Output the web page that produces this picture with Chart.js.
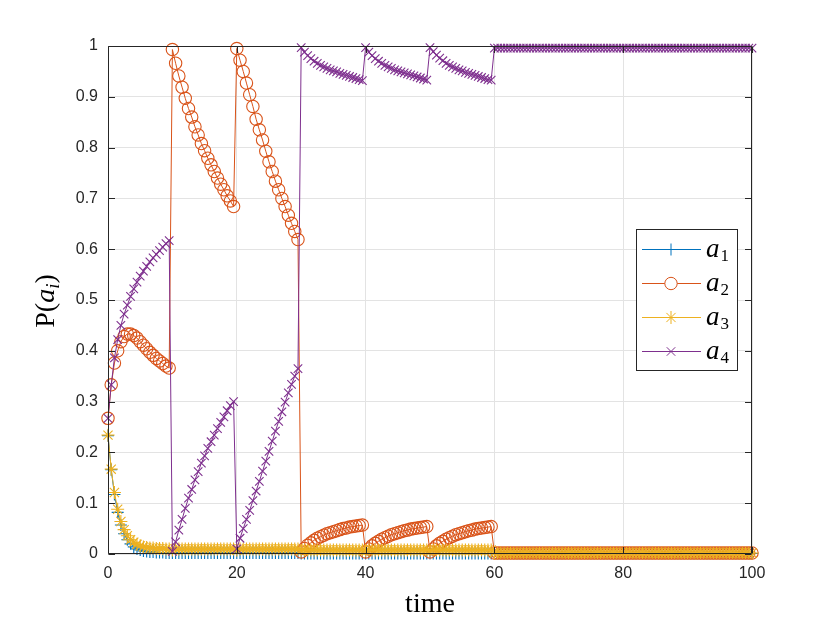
<!DOCTYPE html>
<html>
<head>
<meta charset="utf-8">
<script src="https://cdn.jsdelivr.net/npm/chart.js@4.4.1/dist/chart.umd.min.js"></script>
<style>
  html, body { margin: 0; padding: 0; background: #fff; }
  #wrap { width: 830px; height: 623px; }
</style>
</head>
<body>
<div id="wrap"><canvas id="plot" width="830" height="623"></canvas></div>
<script>
// time grid: one sample every 0.5 from 0 to 100
const time = Array.from({ length: 201 }, (_, i) => i * 0.5);

const xTicks = [0, 20, 40, 60, 80, 100];
const yTicks = [0, 0.1, 0.2, 0.3, 0.4, 0.5, 0.6, 0.7, 0.8, 0.9, 1];

const seriesNames = ['a1', 'a2', 'a3', 'a4'];

// values, one row of 20 per 10 time units, then t = 60..100
const a1 = [
  0.233, 0.166, 0.117, 0.082, 0.057, 0.040, 0.028, 0.020, 0.014, 0.010, 0.008, 0.006, 0.005, 0.004, 0.004, 0.003, 0.003, 0.003, 0.002, 0.002,
  0.002, 0.002, 0.002, 0.002, 0.002, 0.002, 0.002, 0.002, 0.002, 0.002, 0.002, 0.002, 0.002, 0.002, 0.002, 0.002, 0.002, 0.002, 0.002, 0.002,
  0.002, 0.002, 0.002, 0.002, 0.002, 0.002, 0.002, 0.002, 0.002, 0.002, 0.002, 0.002, 0.002, 0.002, 0.002, 0.002, 0.002, 0.002, 0.002, 0.002,
  0.001, 0.001, 0.001, 0.001, 0.001, 0.001, 0.001, 0.001, 0.001, 0.001, 0.001, 0.001, 0.001, 0.001, 0.001, 0.001, 0.001, 0.001, 0.001, 0.001,
  0.001, 0.001, 0.001, 0.001, 0.001, 0.001, 0.001, 0.001, 0.001, 0.001, 0.001, 0.001, 0.001, 0.001, 0.001, 0.001, 0.001, 0.001, 0.001, 0.001,
  0.001, 0.001, 0.001, 0.001, 0.001, 0.001, 0.001, 0.001, 0.001, 0.001, 0.001, 0.001, 0.001, 0.001, 0.001, 0.001, 0.001, 0.001, 0.001, 0.001,
  0.001, 0.001, 0.001, 0.001, 0.001, 0.001, 0.001, 0.001, 0.001,
  0.001, 0.001, 0.001, 0.001, 0.001, 0.001, 0.001, 0.001, 0.001,
  0.001, 0.001, 0.001, 0.001, 0.001, 0.001, 0.001, 0.001, 0.001,
  0.001, 0.001, 0.001, 0.001, 0.001, 0.001, 0.001, 0.001, 0.001,
  0.001, 0.001, 0.001, 0.001, 0.001, 0.001, 0.001, 0.001, 0.001,
  0.001, 0.001, 0.001, 0.001, 0.001, 0.001, 0.001, 0.001, 0.001,
  0.001, 0.001, 0.001, 0.001, 0.001, 0.001, 0.001, 0.001, 0.001,
  0.001, 0.001, 0.001, 0.001, 0.001, 0.001, 0.001, 0.001, 0.001,
  0.001, 0.001, 0.001, 0.001, 0.001, 0.001, 0.001, 0.001, 0.001
];

const a2 = [
  0.267, 0.333, 0.376, 0.400, 0.418, 0.428, 0.433, 0.433, 0.430, 0.425, 0.418, 0.411, 0.404, 0.397, 0.391, 0.385, 0.380, 0.375, 0.370, 0.366,
  0.993, 0.966, 0.941, 0.919, 0.897, 0.877, 0.860, 0.841, 0.825, 0.808, 0.794, 0.779, 0.766, 0.753, 0.740, 0.728, 0.717, 0.705, 0.695, 0.684,
  0.995, 0.972, 0.950, 0.927, 0.904, 0.881, 0.856, 0.835, 0.815, 0.793, 0.772, 0.753, 0.734, 0.717, 0.700, 0.684, 0.667, 0.651, 0.635, 0.619,
  0.004, 0.011, 0.017, 0.022, 0.027, 0.031, 0.034, 0.037, 0.040, 0.042, 0.044, 0.046, 0.048, 0.050, 0.051, 0.053, 0.054, 0.055, 0.056, 0.057,
  0.004, 0.010, 0.016, 0.021, 0.025, 0.029, 0.032, 0.035, 0.038, 0.040, 0.042, 0.044, 0.046, 0.047, 0.049, 0.050, 0.051, 0.052, 0.053, 0.054,
  0.004, 0.010, 0.016, 0.021, 0.025, 0.029, 0.032, 0.035, 0.038, 0.040, 0.042, 0.044, 0.046, 0.047, 0.049, 0.050, 0.051, 0.052, 0.053, 0.054,
  0.002, 0.002, 0.002, 0.002, 0.002, 0.002, 0.002, 0.002, 0.002,
  0.002, 0.002, 0.002, 0.002, 0.002, 0.002, 0.002, 0.002, 0.002,
  0.002, 0.002, 0.002, 0.002, 0.002, 0.002, 0.002, 0.002, 0.002,
  0.002, 0.002, 0.002, 0.002, 0.002, 0.002, 0.002, 0.002, 0.002,
  0.002, 0.002, 0.002, 0.002, 0.002, 0.002, 0.002, 0.002, 0.002,
  0.002, 0.002, 0.002, 0.002, 0.002, 0.002, 0.002, 0.002, 0.002,
  0.002, 0.002, 0.002, 0.002, 0.002, 0.002, 0.002, 0.002, 0.002,
  0.002, 0.002, 0.002, 0.002, 0.002, 0.002, 0.002, 0.002, 0.002,
  0.002, 0.002, 0.002, 0.002, 0.002, 0.002, 0.002, 0.002, 0.002
];

const a3 = [
  0.234, 0.167, 0.121, 0.088, 0.064, 0.048, 0.036, 0.028, 0.023, 0.019, 0.016, 0.014, 0.013, 0.012, 0.012, 0.011, 0.011, 0.011, 0.010, 0.010,
  0.008, 0.010, 0.010, 0.010, 0.010, 0.010, 0.010, 0.010, 0.010, 0.010, 0.010, 0.010, 0.010, 0.010, 0.010, 0.010, 0.010, 0.010, 0.010, 0.010,
  0.008, 0.010, 0.010, 0.010, 0.010, 0.010, 0.010, 0.010, 0.010, 0.010, 0.010, 0.010, 0.010, 0.010, 0.010, 0.010, 0.010, 0.010, 0.010, 0.010,
  0.007, 0.008, 0.008, 0.008, 0.008, 0.008, 0.008, 0.008, 0.008, 0.008, 0.008, 0.008, 0.008, 0.008, 0.008, 0.008, 0.008, 0.008, 0.008, 0.008,
  0.007, 0.008, 0.008, 0.008, 0.008, 0.008, 0.008, 0.008, 0.008, 0.008, 0.008, 0.008, 0.008, 0.008, 0.008, 0.008, 0.008, 0.008, 0.008, 0.008,
  0.007, 0.008, 0.008, 0.008, 0.008, 0.008, 0.008, 0.008, 0.008, 0.008, 0.008, 0.008, 0.008, 0.008, 0.008, 0.008, 0.008, 0.008, 0.008, 0.008,
  0.002, 0.002, 0.002, 0.002, 0.002, 0.002, 0.002, 0.002, 0.002,
  0.002, 0.002, 0.002, 0.002, 0.002, 0.002, 0.002, 0.002, 0.002,
  0.002, 0.002, 0.002, 0.002, 0.002, 0.002, 0.002, 0.002, 0.002,
  0.002, 0.002, 0.002, 0.002, 0.002, 0.002, 0.002, 0.002, 0.002,
  0.002, 0.002, 0.002, 0.002, 0.002, 0.002, 0.002, 0.002, 0.002,
  0.002, 0.002, 0.002, 0.002, 0.002, 0.002, 0.002, 0.002, 0.002,
  0.002, 0.002, 0.002, 0.002, 0.002, 0.002, 0.002, 0.002, 0.002,
  0.002, 0.002, 0.002, 0.002, 0.002, 0.002, 0.002, 0.002, 0.002,
  0.002, 0.002, 0.002, 0.002, 0.002, 0.002, 0.002, 0.002, 0.002
];

const a4 = [
  0.267, 0.333, 0.386, 0.422, 0.450, 0.472, 0.490, 0.507, 0.522, 0.535, 0.547, 0.557, 0.566, 0.575, 0.583, 0.590, 0.597, 0.604, 0.611, 0.617,
  0.005, 0.024, 0.047, 0.068, 0.090, 0.110, 0.127, 0.146, 0.162, 0.179, 0.193, 0.208, 0.221, 0.234, 0.247, 0.259, 0.270, 0.282, 0.292, 0.300,
  0.010, 0.031, 0.050, 0.068, 0.086, 0.105, 0.124, 0.143, 0.163, 0.183, 0.202, 0.222, 0.242, 0.261, 0.280, 0.299, 0.317, 0.334, 0.350, 0.365,
  0.997, 0.988, 0.981, 0.975, 0.970, 0.966, 0.962, 0.959, 0.956, 0.953, 0.951, 0.949, 0.946, 0.944, 0.942, 0.940, 0.938, 0.936, 0.934, 0.932,
  0.997, 0.988, 0.981, 0.975, 0.970, 0.966, 0.962, 0.959, 0.956, 0.953, 0.951, 0.949, 0.947, 0.945, 0.943, 0.941, 0.939, 0.937, 0.935, 0.933,
  0.997, 0.989, 0.982, 0.976, 0.971, 0.966, 0.962, 0.959, 0.956, 0.953, 0.951, 0.948, 0.946, 0.944, 0.942, 0.940, 0.938, 0.936, 0.934, 0.933,
  0.996, 0.996, 0.996, 0.996, 0.996, 0.996, 0.996, 0.996, 0.996,
  0.996, 0.996, 0.996, 0.996, 0.996, 0.996, 0.996, 0.996, 0.996,
  0.996, 0.996, 0.996, 0.996, 0.996, 0.996, 0.996, 0.996, 0.996,
  0.996, 0.996, 0.996, 0.996, 0.996, 0.996, 0.996, 0.996, 0.996,
  0.996, 0.996, 0.996, 0.996, 0.996, 0.996, 0.996, 0.996, 0.996,
  0.996, 0.996, 0.996, 0.996, 0.996, 0.996, 0.996, 0.996, 0.996,
  0.996, 0.996, 0.996, 0.996, 0.996, 0.996, 0.996, 0.996, 0.996,
  0.996, 0.996, 0.996, 0.996, 0.996, 0.996, 0.996, 0.996, 0.996,
  0.996, 0.996, 0.996, 0.996, 0.996, 0.996, 0.996, 0.996, 0.996
];

// MATLAB default colour order
const colors = ['#0072BD', '#D95319', '#EDB120', '#7E2F8E'];
const markers = ['cross', 'circle', 'star', 'crossRot'];
const markerSize = [6, 6.2, 6.5, 6];
const values = [a1, a2, a3, a4];

const axisColor = '#262626';
const serif = '"Liberation Serif", "Times New Roman", serif';

function toPoints(vals) {
  return vals.map((v, i) => ({ x: time[i], y: v }));
}

// box, inward ticks, axis labels and legend drawn the MATLAB way
const matlabFrame = {
  id: 'matlabFrame',
  afterDatasetsDraw(chart) {
    const { ctx, chartArea: a, scales: { x, y } } = chart;
    const L = Math.round(a.left) + 0.5, R = Math.round(a.right) - 0.5;
    const T = Math.round(a.top) + 0.5, B = Math.round(a.bottom) - 0.5;
    const tl = 6.5;
    ctx.save();
    ctx.strokeStyle = axisColor;
    ctx.lineWidth = 1;
    ctx.beginPath();
    ctx.rect(L, T, R - L, B - T);
    x.ticks.forEach(t => {
      const px = Math.round(x.getPixelForValue(t.value)) + 0.5;
      ctx.moveTo(px, B); ctx.lineTo(px, B - tl);
      ctx.moveTo(px, T); ctx.lineTo(px, T + tl);
    });
    y.ticks.forEach(t => {
      const py = Math.round(y.getPixelForValue(t.value)) + 0.5;
      ctx.moveTo(L, py); ctx.lineTo(L + tl, py);
      ctx.moveTo(R, py); ctx.lineTo(R - tl, py);
    });
    ctx.stroke();

    // x label
    ctx.fillStyle = '#000';
    ctx.font = '28px ' + serif;
    ctx.textAlign = 'center';
    ctx.textBaseline = 'alphabetic';
    ctx.fillText('time', (a.left + a.right) / 2, 612);

    // y label P(a_i)
    const parts = [
      { t: 'P(', f: '28px ' + serif, dy: 0 },
      { t: 'a', f: 'italic 28px ' + serif, dy: 0 },
      { t: 'i', f: 'italic 19px ' + serif, dy: 5 },
      { t: ')', f: '28px ' + serif, dy: 0 }
    ];
    ctx.save();
    ctx.translate(54, (a.top + a.bottom) / 2 + 1);
    ctx.rotate(-Math.PI / 2);
    ctx.textAlign = 'left';
    let total = 0;
    parts.forEach(p => { ctx.font = p.f; p.w = ctx.measureText(p.t).width; total += p.w; });
    let cx = -total / 2;
    parts.forEach(p => { ctx.font = p.f; ctx.fillText(p.t, cx, p.dy); cx += p.w; });
    ctx.restore();

    // legend
    const lx = 636, ly = 229, lw = 101, lh = 141;
    ctx.fillStyle = '#fff';
    ctx.fillRect(lx, ly, lw, lh);
    ctx.strokeStyle = axisColor;
    ctx.strokeRect(lx + 0.5, ly + 0.5, lw, lh);
    seriesNames.forEach((name, i) => {
      const cy = 249.5 + i * 34;
      ctx.strokeStyle = colors[i];
      ctx.lineWidth = 1;
      ctx.beginPath();
      ctx.moveTo(642, cy); ctx.lineTo(701, cy);
      ctx.stroke();
      ctx.fillStyle = '#fff';
      Chart.helpers.drawPoint(ctx, {
        pointStyle: markers[i], radius: markerSize[i], rotation: 0, borderWidth: 1
      }, 671, cy);
      ctx.fillStyle = '#000';
      ctx.textAlign = 'left';
      ctx.font = 'italic 27px ' + serif;
      ctx.fillText(name.charAt(0), 706, cy + 7);
      const w = ctx.measureText(name.charAt(0)).width;
      ctx.font = '17px ' + serif;
      ctx.fillText(name.slice(1), 706 + w + 1, cy + 11);
    });
    ctx.restore();
  }
};

const datasets = values.map((vals, i) => ({
  label: seriesNames[i],
  data: toPoints(vals),
  borderColor: colors[i],
  borderWidth: 1,
  pointStyle: markers[i],
  pointRadius: markerSize[i],
  pointBorderColor: colors[i],
  pointBackgroundColor: 'rgba(255,255,255,0)',
  pointBorderWidth: 1.1,
  tension: 0,
  fill: false,
  clip: false,
  order: 3 - i
}));

new Chart(document.getElementById('plot'), {
  type: 'line',
  data: { datasets },
  plugins: [matlabFrame],
  options: {
    responsive: false,
    animation: false,
    events: [],
    layout: { padding: { top: 46, right: 78, left: 0, bottom: 0 } },
    plugins: { legend: { display: false }, tooltip: { enabled: false } },
    scales: {
      x: {
        type: 'linear',
        min: 0, max: 100,
        afterFit: s => { s.height = 69; },
        afterBuildTicks: s => { s.ticks = xTicks.map(v => ({ value: v })); },
        grid: { color: '#e3e3e3', drawTicks: false },
        border: { display: false },
        ticks: {
          padding: 10, color: axisColor,
          font: { family: '"Liberation Sans", Arial, sans-serif', size: 16 },
          maxRotation: 0
        }
      },
      y: {
        min: 0, max: 1,
        afterFit: s => { s.width = 108; },
        afterBuildTicks: s => { s.ticks = yTicks.map(v => ({ value: v })); },
        grid: { color: '#e3e3e3', drawTicks: false },
        border: { display: false },
        ticks: {
          padding: 10, color: axisColor,
          font: { family: '"Liberation Sans", Arial, sans-serif', size: 16 },
          callback: v => String(v)
        }
      }
    }
  }
});
</script>
</body>
</html>
